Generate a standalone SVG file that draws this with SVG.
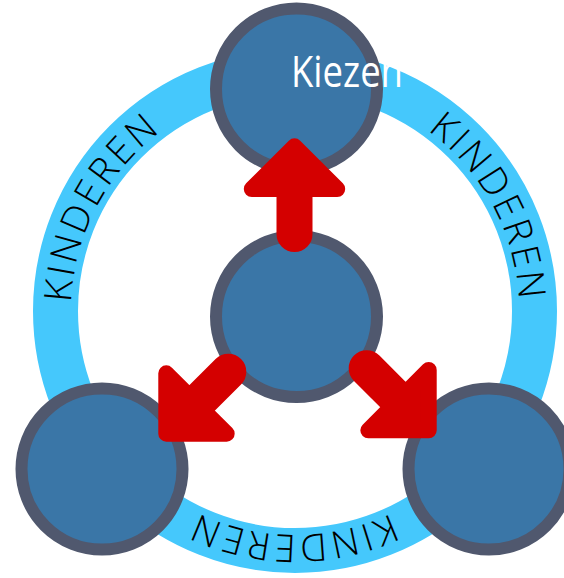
<svg xmlns="http://www.w3.org/2000/svg" xmlns:xlink="http://www.w3.org/1999/xlink" width="564" height="578" viewBox="0 0 564 578">
  <style>
    .node { fill: #3A76A7; stroke: #50586E; stroke-width: 12; }
    .ring { fill: none; stroke: #45C8FC; stroke-width: 45; }
    .arrow { fill: #D40000; stroke: #D40000; stroke-width: 16; stroke-linejoin: round; }
    .ringtext { font-family: "Open Sans", "Noto Sans", sans-serif; font-size: 38px; font-weight: 300; fill: #000000; letter-spacing: 3px; }
    .label { font-family: "Open Sans", "Noto Sans", sans-serif; font-size: 44px; fill: #FFFFFF; }
  </style>
  <defs>
    <path id="ringpath" d="M 519,311 A 224,224 0 1 1 71,311 A 224,224 0 1 1 519,311"/>
    <path id="arrowShape" d="M 0,11.3 L 42.7,54 L 10,54 L 10,99 A 10,10 0 0 1 -10,99 L -10,54 L -42.7,54 Z"/>
  </defs>
  <rect width="564" height="578" fill="#FFFFFF"/>
  <g id="ring">
    <circle class="ring" cx="295" cy="311" r="239.5"/>
    <text class="ringtext"><textPath xlink:href="#ringpath" href="#ringpath" startOffset="353.5" text-anchor="middle">KINDEREN</textPath></text>
    <text class="ringtext"><textPath xlink:href="#ringpath" href="#ringpath" startOffset="812.7" text-anchor="middle">KINDEREN</textPath></text>
    <text class="ringtext"><textPath xlink:href="#ringpath" href="#ringpath" startOffset="1297.5" text-anchor="middle">KINDEREN</textPath></text>
  </g>
  <g id="node-center">
    <circle class="node" cx="296.5" cy="316.5" r="80.5"/>
  </g>
  <g id="node-bottom-left">
    <circle class="node" cx="102" cy="469" r="80.5"/>
  </g>
  <g id="node-bottom-right">
    <circle class="node" cx="489" cy="469" r="80.5"/>
  </g>
  <g id="node-top">
    <circle class="node" cx="296.5" cy="89" r="80.5"/>
  </g>
  <g id="connectors">
    <use xlink:href="#arrowShape" href="#arrowShape" class="arrow" transform="translate(294.5,135)"/>
    <use xlink:href="#arrowShape" href="#arrowShape" class="arrow" transform="translate(158.3,441.7) rotate(-135)"/>
    <use xlink:href="#arrowShape" href="#arrowShape" class="arrow" transform="translate(436.7,438.3) rotate(135)"/>
  </g>
  <g id="node-top-label">
    <text class="label" x="291" y="87" textLength="112" lengthAdjust="spacingAndGlyphs">Kiezen</text>
  </g>
</svg>
